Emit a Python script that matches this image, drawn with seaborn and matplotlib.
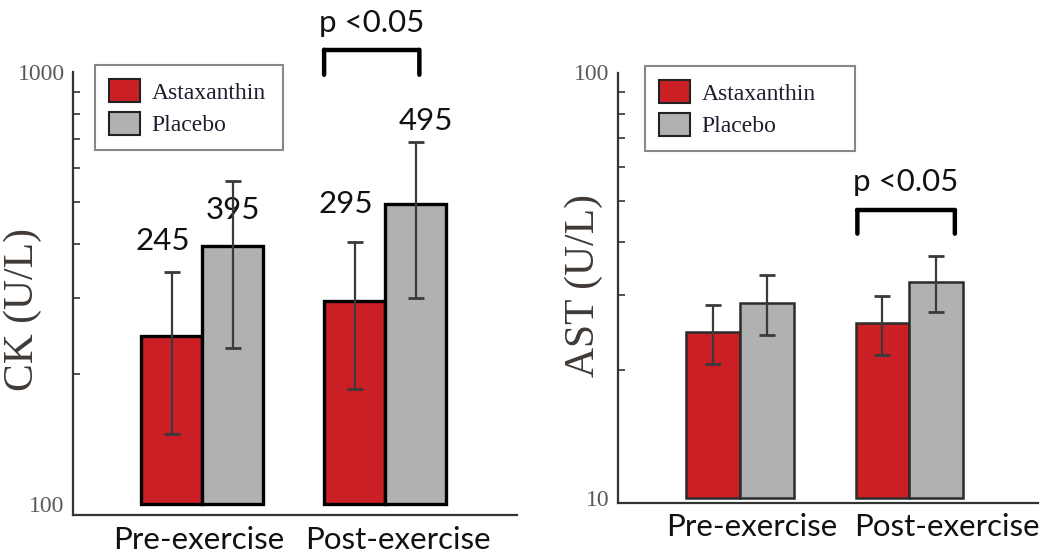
import matplotlib
matplotlib.use("Agg")
import matplotlib.pyplot as plt
import matplotlib.transforms as mtrans
from matplotlib.lines import Line2D
import seaborn as sns
import pandas as pd
from matplotlib.ticker import LogLocator, NullFormatter, FixedLocator

# ---- data ----
phases = ["Pre-exercise", "Post-exercise"]
groups = ["Astaxanthin", "Placebo"]
ck_astaxanthin = [245, 295]
ck_placebo = [395, 495]
ck_ast_err = [100, 110]
ck_pla_err = [165, 195]
ast_astaxanthin = [24.5, 25.8]
ast_placebo = [28.8, 32.2]
ast_ast_err = [3.9, 4.1]
ast_pla_err = [4.6, 4.9]
ck_labels = ["245", "395", "295", "495"]
sig_text = "p <0.05"

RED = "#CB1F26"
GRAY = "#B1B1B1"

sns.set_theme(style="white")
plt.rcParams["font.family"] = ["Lato", "DejaVu Sans"]

fig = plt.figure(figsize=(10.48, 5.55), dpi=100)
axL = fig.add_axes([73/1048, 51/555, 444/1048, 432/555])
axR = fig.add_axes([618/1048, 57/555, 420/1048, 425.5/555])


def make_df(a, p, ea, ep):
    rows = []
    for i, ph in enumerate(phases):
        rows.append(dict(phase=ph, group=groups[0], value=a[i], err=ea[i]))
        rows.append(dict(phase=ph, group=groups[1], value=p[i], err=ep[i]))
    return pd.DataFrame(rows)


def draw(ax, df, ylim, width, edge, lw, xlim, outward_px, ylabel, label_xy,
         xlabel_shift_px, xlabel_pad):
    ax.set_yscale("log")
    sns.barplot(data=df, x="phase", y="value", hue="group", order=phases,
                hue_order=groups, palette=[RED, GRAY], width=width,
                errorbar=None, edgecolor=edge, linewidth=lw, ax=ax,
                saturation=1)
    ax.set_ylim(*ylim)
    ax.set_xlim(*xlim)
    bars = [p for p in ax.patches if p.get_width() > 0 and p.get_height() > 0][:4]
    bars = sorted(bars, key=lambda b: b.get_x())
    # bars start at the lower axis limit
    for b in bars:
        top = b.get_y() + b.get_height()
        b.set_y(ylim[0])
        b.set_height(top - ylim[0])
        b.set_clip_on(False)
    centers = {}
    i = 0
    for ph in phases:
        for g in groups:
            r = df[(df.phase == ph) & (df.group == g)].iloc[0]
            b = bars[i]
            i += 1
            cx = b.get_x() + b.get_width() / 2
            centers[(ph, g)] = (b, cx)
            ax.errorbar(cx, r["value"], yerr=r["err"], color="#3a3a3a", lw=1.6,
                        capsize=6, capthick=2.0, zorder=5)
    for s in ["top", "right"]:
        ax.spines[s].set_visible(False)
    ax.spines["bottom"].set_position(("outward", outward_px * 0.72))
    for s in ["bottom", "left"]:
        ax.spines[s].set_color("#333333")
        ax.spines[s].set_linewidth(1.6)
    ax.tick_params(axis="x", length=0, labelsize=22.5, colors="#111111",
                   pad=xlabel_pad)
    for t, dx in zip(ax.get_xticklabels(), xlabel_shift_px):
        t.set_transform(t.get_transform() +
                        mtrans.ScaledTranslation(dx / 100, 0, fig.dpi_scale_trans))
    ax.yaxis.set_major_locator(FixedLocator(list(ylim)))
    ax.set_yticklabels([str(int(v)) for v in ylim])
    ax.yaxis.set_minor_locator(LogLocator(base=10, subs=range(2, 10)))
    ax.yaxis.set_minor_formatter(NullFormatter())
    ax.tick_params(axis="y", which="minor", direction="in", length=5,
                   width=1.2, colors="#333333", left=True)
    ax.tick_params(axis="y", which="major", direction="in", length=0,
                   left=True, pad=6)
    for t in ax.get_yticklabels():
        t.set_fontfamily("Liberation Serif")
        t.set_fontsize(17)
        t.set_color("#5a5a5a")
    ax.set_xlabel("")
    ax.set_ylabel(ylabel, fontfamily="Liberation Serif", fontsize=30,
                  color="#403a36")
    ax.yaxis.set_label_coords(*label_xy)
    if ax.get_legend():
        ax.get_legend().remove()
    return centers


dfL = make_df(ck_astaxanthin, ck_placebo, ck_ast_err, ck_pla_err)
dfR = make_df(ast_astaxanthin, ast_placebo, ast_ast_err, ast_pla_err)

cL = draw(axL, dfL, (100, 1000), 0.667, "black", 2.4, (-0.705, 1.72), 11,
          "CK (U/L)", (-0.07, 0.451), [-3, 13], 8)
cR = draw(axR, dfR, (10, 100), 0.633, "#2b2b2b", 1.8, (-0.72, 1.76), 5,
          "AST (U/L)", (-0.036, 0.5), [12, 38], 7)

# extend left spines down to the offset x axis
axL.spines["left"].set_bounds(94.3, 1000)
axR.spines["left"].set_bounds(9.73, 100)

for ax, anchor in [(axL, (0.0495, 0.80, 0.423, 0.216)),
                   (axR, (0.064, 0.817, 0.50, 0.198))]:
    h, l = ax.get_legend_handles_labels()
    leg = ax.legend(h, l, loc="upper left", bbox_to_anchor=anchor,
                    mode="expand", frameon=True, fancybox=False,
                    edgecolor="#6b6b6b",
                    prop={"family": "Liberation Serif", "size": 17},
                    handlelength=1.3, handleheight=1.1, handletextpad=0.5,
                    labelspacing=0.35, borderpad=0.6, borderaxespad=0)
    leg.get_frame().set_linewidth(1.5)
    for t in leg.get_texts():
        t.set_color("#1c1c2c")
    for p in leg.get_patches():
        p.set_edgecolor("#222222")
        p.set_linewidth(1.5)

# value labels on the CK panel
label_dx = [-6, 0, -6, 7]      # points
label_dy = [68, 26, 70, 60]    # points above bar top
order = [(phases[0], groups[0]), (phases[0], groups[1]),
         (phases[1], groups[0]), (phases[1], groups[1])]
for k, txt, dx, dy in zip(order, ck_labels, label_dx, label_dy):
    b, cx = cL[k]
    top = b.get_y() + b.get_height()
    axL.annotate(txt, (cx, top), xytext=(dx, dy), textcoords="offset points",
                 ha="center", va="center", fontsize=22.5, color="#111111",
                 annotation_clip=False)


def bracket(ax, x0, x1, y_top_pts, leg_pts, text_pts, ybase):
    off_top = mtrans.offset_copy(ax.transData, fig=fig, y=y_top_pts, units="points")
    off_bot = mtrans.offset_copy(ax.transData, fig=fig, y=y_top_pts - leg_pts, units="points")
    off_txt = mtrans.offset_copy(ax.transData, fig=fig, y=text_pts, units="points")
    ax.add_line(Line2D([x0, x1], [ybase, ybase], transform=off_top, color="black",
                       lw=3.2, solid_capstyle="round", clip_on=False))
    for x in (x0, x1):
        ax.annotate("", xy=(x, ybase), xycoords=off_bot,
                    xytext=(x, ybase), textcoords=off_top,
                    arrowprops=dict(arrowstyle="-", lw=3.2, color="black",
                                    shrinkA=0, shrinkB=0),
                    annotation_clip=False)
    ax.text((x0 + x1) / 2, ybase, sig_text, transform=off_txt, ha="center",
            va="center", fontsize=22.5, color="#111111", clip_on=False)


bL, cxL = cL[(phases[1], groups[0])]
bL2, cxL2 = cL[(phases[1], groups[1])]
bracket(axL, bL.get_x(), cxL2 + 0.02, 16, 18, 35, 1000)

bR, cxR = cR[(phases[1], groups[0])]
bR2, cxR2 = cR[(phases[1], groups[1])]
bracket(axR, bR.get_x() + 0.01, bR2.get_x() + bR2.get_width() * 0.85, 0, 17, 20, 47.5)

fig.savefig("out.png", dpi=100)
